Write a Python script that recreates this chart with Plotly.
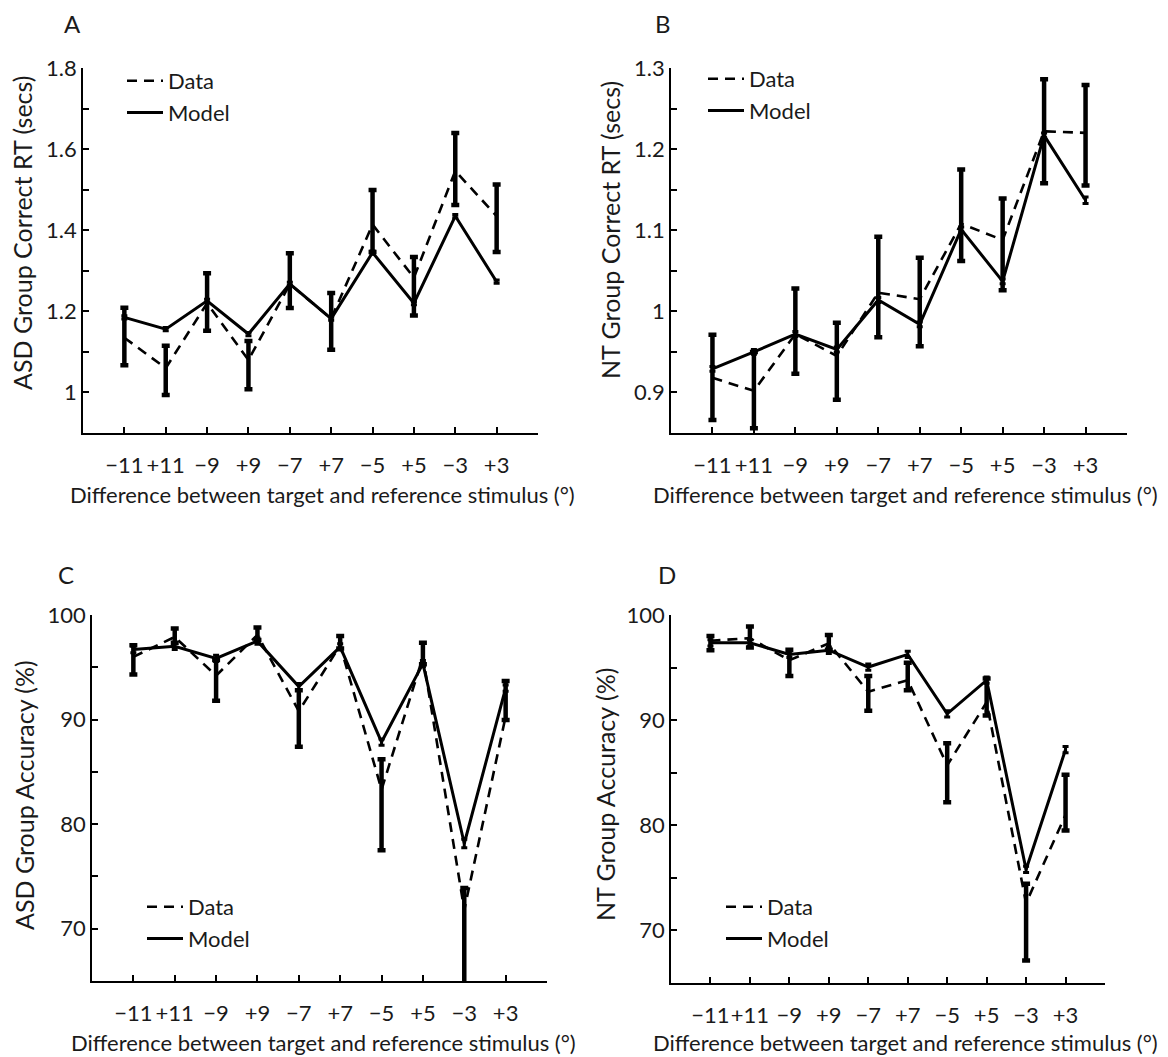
import plotly.graph_objects as go

# ---------------- data ----------------
x_pos = [1, 2, 3, 4, 5, 6, 7, 8, 9, 10]
x_labels = ["\u221211", "+11", "\u22129", "+9", "\u22127", "+7", "\u22125", "+5", "\u22123", "+3"]

# Panel A: ASD correct RT (secs)
model_A = [1.185, 1.156, 1.226, 1.144, 1.268, 1.182, 1.345, 1.220, 1.435, 1.273]
data_A = [1.135, 1.060, 1.220, 1.080, 1.267, 1.182, 1.414, 1.283, 1.546, 1.435]
data_A_hi = [0.074, 0.055, 0.074, 0.047, 0.076, 0.063, 0.085, 0.051, 0.094, 0.078]
data_A_lo = [0.068, 0.066, 0.068, 0.072, 0.059, 0.077, 0.068, 0.093, 0.084, 0.089]
model_A_err = [0.004, 0.004, 0.004, 0.004, 0.004, 0.004, 0.004, 0.004, 0.004, 0.004]

# Panel B: NT correct RT (secs)
model_B = [0.929, 0.950, 0.972, 0.953, 1.014, 0.984, 1.101, 1.037, 1.217, 1.137]
data_B = [0.918, 0.902, 0.972, 0.945, 1.023, 1.015, 1.108, 1.088, 1.222, 1.220]
data_B_hi = [0.053, 0.048, 0.056, 0.041, 0.069, 0.051, 0.067, 0.051, 0.064, 0.059]
data_B_lo = [0.052, 0.046, 0.049, 0.054, 0.055, 0.058, 0.046, 0.062, 0.064, 0.065]
model_B_err = [0.003, 0.003, 0.003, 0.003, 0.003, 0.003, 0.003, 0.003, 0.003, 0.004]

# Panel C: ASD accuracy (%)
model_C = [96.7, 97.0, 95.85, 97.5, 93.15, 96.95, 87.85, 95.35, 78.15, 93.0]
data_C = [96.0, 97.9, 94.2, 98.1, 90.8, 97.1, 83.3, 96.0, 71.8, 90.3]
data_C_hi = [1.1, 0.8, 1.5, 0.7, 2.0, 0.9, 2.9, 1.35, 2.1, 3.4]
data_C_lo = [1.7, 0.55, 2.4, 0.5, 3.4, 0.3, 5.8, 0.7, 7.3, 0.35]
model_C_err = [0.3, 0.3, 0.3, 0.3, 0.3, 0.3, 0.3, 0.3, 0.4, 0.3]

# Panel D: NT accuracy (%)
model_D = [97.35, 97.35, 96.25, 96.65, 95.05, 96.25, 90.6, 93.8, 75.8, 87.2]
data_D = [97.55, 97.8, 95.7, 97.3, 92.7, 93.8, 85.7, 91.7, 72.6, 81.0]
data_D_hi = [0.45, 1.1, 1.0, 0.8, 1.5, 1.65, 2.1, 2.25, 1.85, 3.8]
data_D_lo = [0.9, 0.9, 1.5, 0.6, 1.8, 0.95, 3.5, 1.25, 5.45, 1.5]
model_D_err = [0.3, 0.3, 0.3, 0.3, 0.3, 0.3, 0.3, 0.3, 0.3, 0.3]

panel_letters = ["A", "B", "C", "D"]
y_titles = ["ASD Group Correct RT (secs)", "NT Group Correct RT (secs)",
            "ASD Group Accuracy (%)", "NT Group Accuracy (%)"]
x_title = "Difference between target and reference stimulus (\u00b0)"
y_ranges = [[0.9, 1.8], [0.85, 1.3], [65, 100], [65, 100]]
y_major = [[1, 1.2, 1.4, 1.6, 1.8], [0.9, 1.0, 1.1, 1.2, 1.3], [70, 80, 90, 100], [70, 80, 90, 100]]
y_major_text = [["1", "1.2", "1.4", "1.6", "1.8"], ["0.9", "1", "1.1", "1.2", "1.3"],
                ["70", "80", "90", "100"], ["70", "80", "90", "100"]]
y_minor = [0.1, 0.05, 5, 5]

# ---------------- layout geometry (pixels) ----------------
W, H = 1168, 1057
FONT = "Lato"
FS = 22
FS_YT = 25
TXT = "#1a1a1a"

def px_x(v):
    return v / W

def px_y(v):
    return 1 - v / H

panels = [
    dict(x0=83, x1=538, y0=68, y1=433),
    dict(x0=671, x1=1127, y0=68, y1=433),
    dict(x0=92, x1=547, y0=615, y1=981),
    dict(x0=671, x1=1105, y0=615, y1=983),
]

series = [
    (model_A, model_A_err, data_A, data_A_hi, data_A_lo),
    (model_B, model_B_err, data_B, data_B_hi, data_B_lo),
    (model_C, model_C_err, data_C, data_C_hi, data_C_lo),
    (model_D, model_D_err, data_D, data_D_hi, data_D_lo),
]

legend_pos = [(122, 60), (703, 58), (142, 886), (721, 886)]
letter_pos = [(72, 23), (663, 23), (66, 574), (667, 574)]
ytitle_pos = [(22, 233), (610, 230), (24, 795), (605, 795)]
xtitle_pos = [(322, 494), (905, 494), (323, 1042), (905, 1042)]

fig = go.Figure()
layout = dict(
    width=W, height=H,
    margin=dict(l=0, r=0, t=0, b=0, autoexpand=False),
    paper_bgcolor="white", plot_bgcolor="white",
    font=dict(family=FONT, size=FS, color=TXT),
    showlegend=True,
    annotations=[],
)

for i in range(4):
    sfx = "" if i == 0 else str(i + 1)
    xa, ya = "x" + sfx, "y" + sfx
    lg = "legend" + sfx
    model, merr, data, dhi, dlo = series[i]
    fig.add_trace(go.Scatter(
        x=x_pos, y=data, mode="lines", name="Data",
        xaxis=xa, yaxis=ya, legend=lg,
        line=dict(color="black", width=2.6, dash="10px,7px"),
        error_y=dict(type="data", symmetric=False, array=dhi, arrayminus=dlo,
                     color="black", thickness=4.5, width=4),
    ))
    fig.add_trace(go.Scatter(
        x=x_pos, y=model, mode="lines", name="Model",
        xaxis=xa, yaxis=ya, legend=lg,
        line=dict(color="black", width=3),
        error_y=dict(type="data", array=merr, color="black", thickness=3, width=3),
    ))
    p = panels[i]
    layout["xaxis" + sfx] = dict(
        domain=[px_x(p["x0"]), px_x(p["x1"])], anchor=ya,
        range=[0, 11], tickvals=x_pos, ticktext=x_labels, tickangle=0,
        showline=True, linecolor="black", linewidth=1.6,
        ticks="inside", ticklen=6, tickwidth=1.5, tickcolor="black",
        showgrid=False, zeroline=False, ticklabelstandoff=12, automargin=False,
        tickfont=dict(family=FONT, size=FS, color=TXT),
    )
    layout["yaxis" + sfx] = dict(
        domain=[px_y(p["y1"]), px_y(p["y0"])], anchor=xa,
        range=y_ranges[i], tickvals=y_major[i], ticktext=y_major_text[i],
        showline=True, linecolor="black", linewidth=1.6,
        ticks="inside", ticklen=6, tickwidth=1.5, tickcolor="black",
        minor=dict(dtick=y_minor[i], ticks="inside", ticklen=6, tickwidth=1.5, tickcolor="black"),
        showgrid=False, zeroline=False, ticklabelstandoff=0, automargin=False,
        tickfont=dict(family=FONT, size=FS, color=TXT),
    )
    lx, ly = legend_pos[i]
    layout[lg] = dict(
        x=px_x(lx), y=px_y(ly), xanchor="left", yanchor="top",
        bgcolor="rgba(0,0,0,0)", borderwidth=0,
        font=dict(family=FONT, size=FS, color=TXT),
        tracegroupgap=0, itemwidth=36,
    )
    cx, cy = letter_pos[i]
    layout["annotations"].append(dict(
        text=panel_letters[i], x=px_x(cx), y=px_y(cy), xref="paper", yref="paper",
        showarrow=False, xanchor="center", yanchor="middle",
        font=dict(family=FONT, size=24, color=TXT),
    ))
    tx, ty = ytitle_pos[i]
    layout["annotations"].append(dict(
        text=y_titles[i], x=px_x(tx), y=px_y(ty), xref="paper", yref="paper",
        showarrow=False, xanchor="center", yanchor="middle", textangle=-90,
        font=dict(family=FONT, size=FS_YT, color=TXT),
    ))
    tx, ty = xtitle_pos[i]
    layout["annotations"].append(dict(
        text=x_title, x=px_x(tx), y=px_y(ty), xref="paper", yref="paper",
        showarrow=False, xanchor="center", yanchor="middle",
        font=dict(family=FONT, size=FS, color=TXT),
    ))

fig.update_layout(**layout)
fig.write_html("out.html", config={"displayModeBar": False},
               post_script="document.body.style.margin='0px';")
